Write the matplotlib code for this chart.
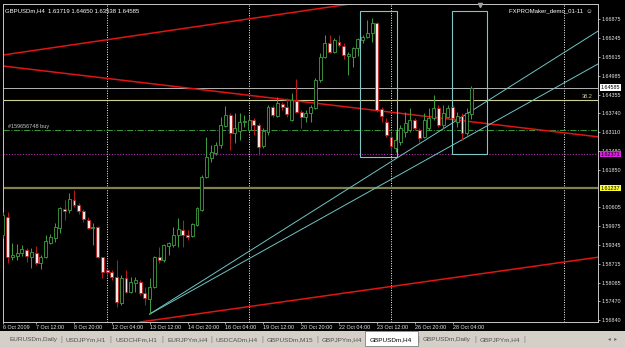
import numpy as np
import matplotlib
matplotlib.use("Agg")
import matplotlib.pyplot as plt
from matplotlib.patches import Rectangle

# --- data (bar 0 = 12 Oct 00:00) ---
first_bar = -22
opens = [1.5968, 1.6028, 1.5894, 1.5898, 1.5908, 1.5918, 1.5894, 1.5908, 1.5874, 1.5894,
         1.5941, 1.5958, 1.5991, 1.6054, 1.6051, 1.6084, 1.6068, 1.6048, 1.6018, 1.5991,
         1.5994, 1.5894, 1.5851, 1.5844, 1.5828, 1.5741, 1.5824, 1.5778, 1.5808, 1.5811,
         1.5774, 1.5754, 1.5794, 1.5894, 1.5884, 1.5931, 1.5934, 1.5968, 1.5984, 1.5968,
         1.5964, 1.6001, 1.6051, 1.6161, 1.6224, 1.6241, 1.6268, 1.6331, 1.6368, 1.6308,
         1.6314, 1.6344, 1.6318, 1.6351, 1.6334, 1.6264, 1.6311, 1.6394, 1.6364, 1.6404,
         1.6394, 1.6351, 1.6414, 1.6378, 1.6361, 1.6374, 1.6391, 1.6484, 1.6561, 1.6608,
         1.6578, 1.6611, 1.6598, 1.6564, 1.6561, 1.6591, 1.6618, 1.6628, 1.6641, 1.6674,
         1.6388, 1.6344, 1.6294, 1.6258, 1.6278, 1.6311, 1.6318, 1.6351, 1.6318, 1.6294,
         1.6324, 1.6358, 1.6391, 1.6334, 1.6361, 1.6394, 1.6344, 1.6364, 1.6308, 1.63719]
highs = [1.6044, 1.6044, 1.5941, 1.5938, 1.5934, 1.5924, 1.5924, 1.5931, 1.5901, 1.5968,
         1.5971, 1.6008, 1.6061, 1.6084, 1.6108, 1.6118, 1.6074, 1.6054, 1.6028, 1.6008,
         1.5998, 1.5894, 1.5858, 1.5851, 1.5884, 1.5834, 1.5851, 1.5828, 1.5828, 1.5818,
         1.5794, 1.5824, 1.5898, 1.5928, 1.5938, 1.5944, 1.5994, 1.6024, 1.6018, 1.5984,
         1.6008, 1.6061, 1.6168, 1.6294, 1.6268, 1.6278, 1.6361, 1.6398, 1.6374, 1.6374,
         1.6374, 1.6368, 1.6368, 1.6358, 1.6341, 1.6324, 1.6401, 1.6401, 1.6428, 1.6411,
         1.6424, 1.6441, 1.6488, 1.6384, 1.6384, 1.6401, 1.6491, 1.6574, 1.6634, 1.6634,
         1.6624, 1.6634, 1.6608, 1.6578, 1.6594, 1.6624, 1.6634, 1.6684, 1.6691, 1.6678,
         1.6394, 1.6358, 1.6311, 1.6314, 1.6334, 1.6378, 1.6391, 1.6358, 1.6324, 1.6374,
         1.6391, 1.6434, 1.6401, 1.6401, 1.6401, 1.6401, 1.6378, 1.6374, 1.6391, 1.64650]
lows = [1.5958, 1.5874, 1.5884, 1.5884, 1.5898, 1.5878, 1.5858, 1.5868, 1.5854, 1.5891,
        1.5938, 1.5944, 1.5974, 1.6018, 1.6041, 1.6061, 1.6038, 1.6011, 1.5988, 1.5934,
        1.5891, 1.5824, 1.5834, 1.5818, 1.5728, 1.5734, 1.5774, 1.5774, 1.5778, 1.5768,
        1.5734, 1.5704, 1.5791, 1.5874, 1.5878, 1.5901, 1.5928, 1.5928, 1.5928, 1.5951,
        1.5961, 1.5998, 1.6048, 1.6158, 1.6211, 1.6234, 1.6258, 1.6328, 1.6251, 1.6274,
        1.6284, 1.6328, 1.6311, 1.6301, 1.6234, 1.6258, 1.6301, 1.6361, 1.6361, 1.6384,
        1.6361, 1.6348, 1.6374, 1.6324, 1.6344, 1.6344, 1.6388, 1.6478, 1.6558, 1.6574,
        1.6574, 1.6594, 1.6554, 1.6501, 1.6528, 1.6564, 1.6608, 1.6624, 1.6611, 1.6378,
        1.6344, 1.6294, 1.6244, 1.6244, 1.6268, 1.6294, 1.6311, 1.6318, 1.6278, 1.6291,
        1.6318, 1.6351, 1.6328, 1.6324, 1.6358, 1.6351, 1.6328, 1.6284, 1.6301, 1.63538]
closes = [1.6034, 1.5894, 1.5901, 1.5908, 1.5921, 1.5898, 1.5911, 1.5874, 1.5894, 1.5948,
          1.5961, 1.5994, 1.6058, 1.6048, 1.6088, 1.6068, 1.6048, 1.6021, 1.5991, 1.5994,
          1.5894, 1.5844, 1.5844, 1.5828, 1.5744, 1.5824, 1.5778, 1.5811, 1.5818, 1.5774,
          1.5758, 1.5794, 1.5894, 1.5884, 1.5934, 1.5941, 1.5968, 1.5988, 1.5968, 1.5961,
          1.6004, 1.6058, 1.6161, 1.6228, 1.6244, 1.6268, 1.6334, 1.6368, 1.6308, 1.6324,
          1.6344, 1.6348, 1.6351, 1.6334, 1.6261, 1.6314, 1.6394, 1.6368, 1.6408, 1.6394,
          1.6371, 1.6418, 1.6378, 1.6361, 1.6374, 1.6394, 1.6484, 1.6561, 1.6608, 1.6578,
          1.6618, 1.6601, 1.6568, 1.6571, 1.6591, 1.6621, 1.6628, 1.6641, 1.6674, 1.6384,
          1.6364, 1.6301, 1.6264, 1.6284, 1.6324, 1.6341, 1.6351, 1.6324, 1.6291, 1.6351,
          1.6358, 1.6391, 1.6334, 1.6374, 1.6391, 1.6358, 1.6364, 1.6308, 1.6374, 1.64585]

# time scale labels and the bars they sit on
time_labels = ["6 Oct 2009", "7 Oct 12:00", "8 Oct 20:00", "12 Oct 04:00", "13 Oct 12:00",
               "14 Oct 20:00", "16 Oct 04:00", "19 Oct 12:00", "20 Oct 20:00", "22 Oct 04:00",
               "23 Oct 12:00", "26 Oct 20:00", "28 Oct 04:00"]
time_label_bars = [-22, -15, -7, 1, 9, 17, 25, 33, 41, 49, 57, 65, 73]

# price scale
price_ticks = [1.66875, 1.66245, 1.65615, 1.64985, 1.64355, 1.63740, 1.63110, 1.62480,
               1.61850, 1.60605, 1.59975, 1.59345, 1.58715, 1.58085, 1.57470, 1.56840]

# weekly period separators (bar index)
separators = [0, 30, 60, 96.6]

# horizontal objects
bid_price = 1.64585
fibo_level = 1.64175
order_price = 1.63175
order_label = "#159656748 buy"
magenta_level = 1.62371
olive_level = 1.61237

# trendlines: (bar, price) anchor pairs
red_lines = [((-22, 1.65675), (52.8, 1.67408)),
             ((-22, 1.65308), (104.1, 1.62941)),
             ((6.97, 1.56775), (104.1, 1.58942))]
cyan_start = (9, 1.5704)
cyan_ends = [(104.1, 1.66508), (104.1, 1.65408)]

# rectangles: (bar left, bar right, price low, price high)
boxes = [(53.5, 61.3, 1.62275, 1.67141), (72.9, 80.3, 1.62375, 1.67141)]

tabs = ["EURUSDm,Daily", "USDJPYm,H1", "USDCHFm,H1", "EURJPYm,H4", "USDCADm,H4",
        "GBPUSDm,M15", "GBPJPYm,H4", "GBPUSDm,H4", "GBPUSDm,Daily", "GBPJPYm,H4"]
tab_x = [10, 66, 115, 167, 216, 267, 322, 370, 423, 480]
active_tab = "GBPUSDm,H4"

W, H = 625, 348
plt.rcParams["font.family"] = ["Liberation Sans", "DejaVu Sans"]
fig = plt.figure(figsize=(W / 100, H / 100), dpi=100, facecolor="black")

# main chart area (pixel box 3..598 x 4..322)
ax = fig.add_axes([3 / W, 1 - 322 / H, 595 / W, 318 / H])
ax.set_facecolor("black")
for s in ax.spines.values():
    s.set_color("#c8c8c8")
    s.set_linewidth(0.7)

bars = np.arange(first_bar, first_bar + len(opens))
o = np.array(opens)
h = np.array(highs)
l = np.array(lows)
c = np.array(closes)
up = c >= o

# separators
for sx in separators:
    ax.axvline(sx, color="white", lw=0.7, ls=(0, (1, 1.5)), zorder=1)

# horizontal lines
ax.axhline(bid_price, color="#b4b4b4", lw=0.7, zorder=1)
ax.axhline(fibo_level, color="#cfcf98", lw=0.8, zorder=1)
ax.axhline(order_price, color="#3a9a3a", lw=0.7, ls="-.", zorder=1)
ax.axhline(magenta_level, color="#b030b0", lw=0.8, ls=(0, (1, 1.5)), zorder=1)
ax.axhline(olive_level, color="#808050", lw=1.6, zorder=1)

# candles
ax.vlines(bars[up], l[up], h[up], color="#3fa03f", lw=0.7, zorder=3)
ax.vlines(bars[~up], l[~up], h[~up], color="#c01818", lw=0.7, zorder=3)
body = np.maximum(np.abs(c - o), 0.00006)
ax.bar(bars[up], body[up], bottom=np.minimum(o, c)[up], width=0.62,
       color="black", edgecolor="#3fa03f", linewidth=0.6, zorder=4)
ax.bar(bars[~up], body[~up], bottom=np.minimum(o, c)[~up], width=0.62,
       color="#f4e8e8", edgecolor="#c01818", linewidth=0.6, zorder=4)

# trendlines
for p1, p2 in red_lines:
    ax.axline(p1, p2, color="#e01414", lw=1.1, zorder=2)
for end in cyan_ends:
    ax.plot([cyan_start[0], end[0]], [cyan_start[1], end[1]], color="#70c4c4", lw=0.7, zorder=2)

# rectangles
for x0, x1, y0, y1 in boxes:
    ax.add_patch(Rectangle((x0, y0), x1 - x0, y1 - y0, fill=False,
                           edgecolor="#80c8c8", lw=0.8, zorder=2))

ax.set_xlim(-21.97, 103.74)
ax.set_ylim(1.56775, 1.67375)

# price scale on the right
ax.yaxis.tick_right()
ax.set_yticks(price_ticks)
ax.set_yticklabels([f"{p:.5f}" for p in price_ticks])
ax.tick_params(axis="y", colors="#e8e8e8", labelsize=3.9, length=1.5, width=0.5, pad=1)

# time scale
ax.set_xticks(time_label_bars)
ax.set_xticklabels(time_labels)
for lab in ax.get_xticklabels():
    lab.set_ha("left")
ax.tick_params(axis="x", colors="#e8e8e8", labelsize=3.9, length=1.5, width=0.5, pad=1)

# price boxes on the scale
ytr = ax.get_yaxis_transform()
box_kw = dict(transform=ytr, fontsize=3.9, color="black", va="center", ha="left")
ax.text(1.004, bid_price, f"{bid_price:.5f}",
        bbox=dict(boxstyle="square,pad=0.15", fc="white", ec="none"), **box_kw)
ax.text(1.004, magenta_level, f"{magenta_level:.5f}",
        bbox=dict(boxstyle="square,pad=0.15", fc="#e020e0", ec="none"), **box_kw)
ax.text(1.004, olive_level, f"{olive_level:.5f}",
        bbox=dict(boxstyle="square,pad=0.15", fc="#ffff30", ec="none"), **box_kw)

# object labels
ax.text(102.5, fibo_level + 0.0002, "38.2", fontsize=4, color="#cfcf98", ha="right", va="bottom")
ax.text(-21, order_price + 0.0002, order_label, fontsize=4, color="#c8c8c8", ha="left", va="bottom")

# header texts
ax.text(0.004, 0.985, "GBPUSDm,H4  1.63719 1.64650 1.63538 1.64585", transform=ax.transAxes,
        fontsize=4.3, color="white", ha="left", va="top")
ax.text(0.99, 0.985, "FXPROMaker_demo_01-11  \u263a", transform=ax.transAxes,
        fontsize=4.3, color="white", ha="right", va="top")
ax.plot([78.8], [1.6734], marker="v", color="#a0a0a0", markersize=3, clip_on=False, zorder=5)

# tab bar at the bottom
tab_ax = fig.add_axes([0, 0, 1, 17 / H])
tab_ax.set_xlim(0, W)
tab_ax.set_ylim(17, 0)
tab_ax.set_facecolor("#d4d0c8")
tab_ax.set_xticks([])
tab_ax.set_yticks([])
for s in tab_ax.spines.values():
    s.set_visible(False)
tab_ax.add_patch(Rectangle((365, 0), 53, 15, facecolor="white", edgecolor="#808080", lw=0.6))
for name, tx in zip(tabs, tab_x):
    col = "black" if name == active_tab else "#505050"
    tab_ax.text(tx, 8.5, name, fontsize=4.6, color=col, ha="left", va="center")
for name, tx in zip(tabs, tab_x):
    if name == active_tab or tx == 10:
        continue
    tab_ax.text(tx - 6, 8.5, "|", fontsize=5, color="#808080", ha="left", va="center")
tab_ax.text(523, 8.5, "|", fontsize=5, color="#808080", ha="left", va="center")
tab_ax.text(608, 8.5, "\u25c2  \u25b8", fontsize=4, color="#606060", ha="left", va="center",
            family="DejaVu Sans")

fig.savefig("out.png", dpi=100, facecolor="black")
